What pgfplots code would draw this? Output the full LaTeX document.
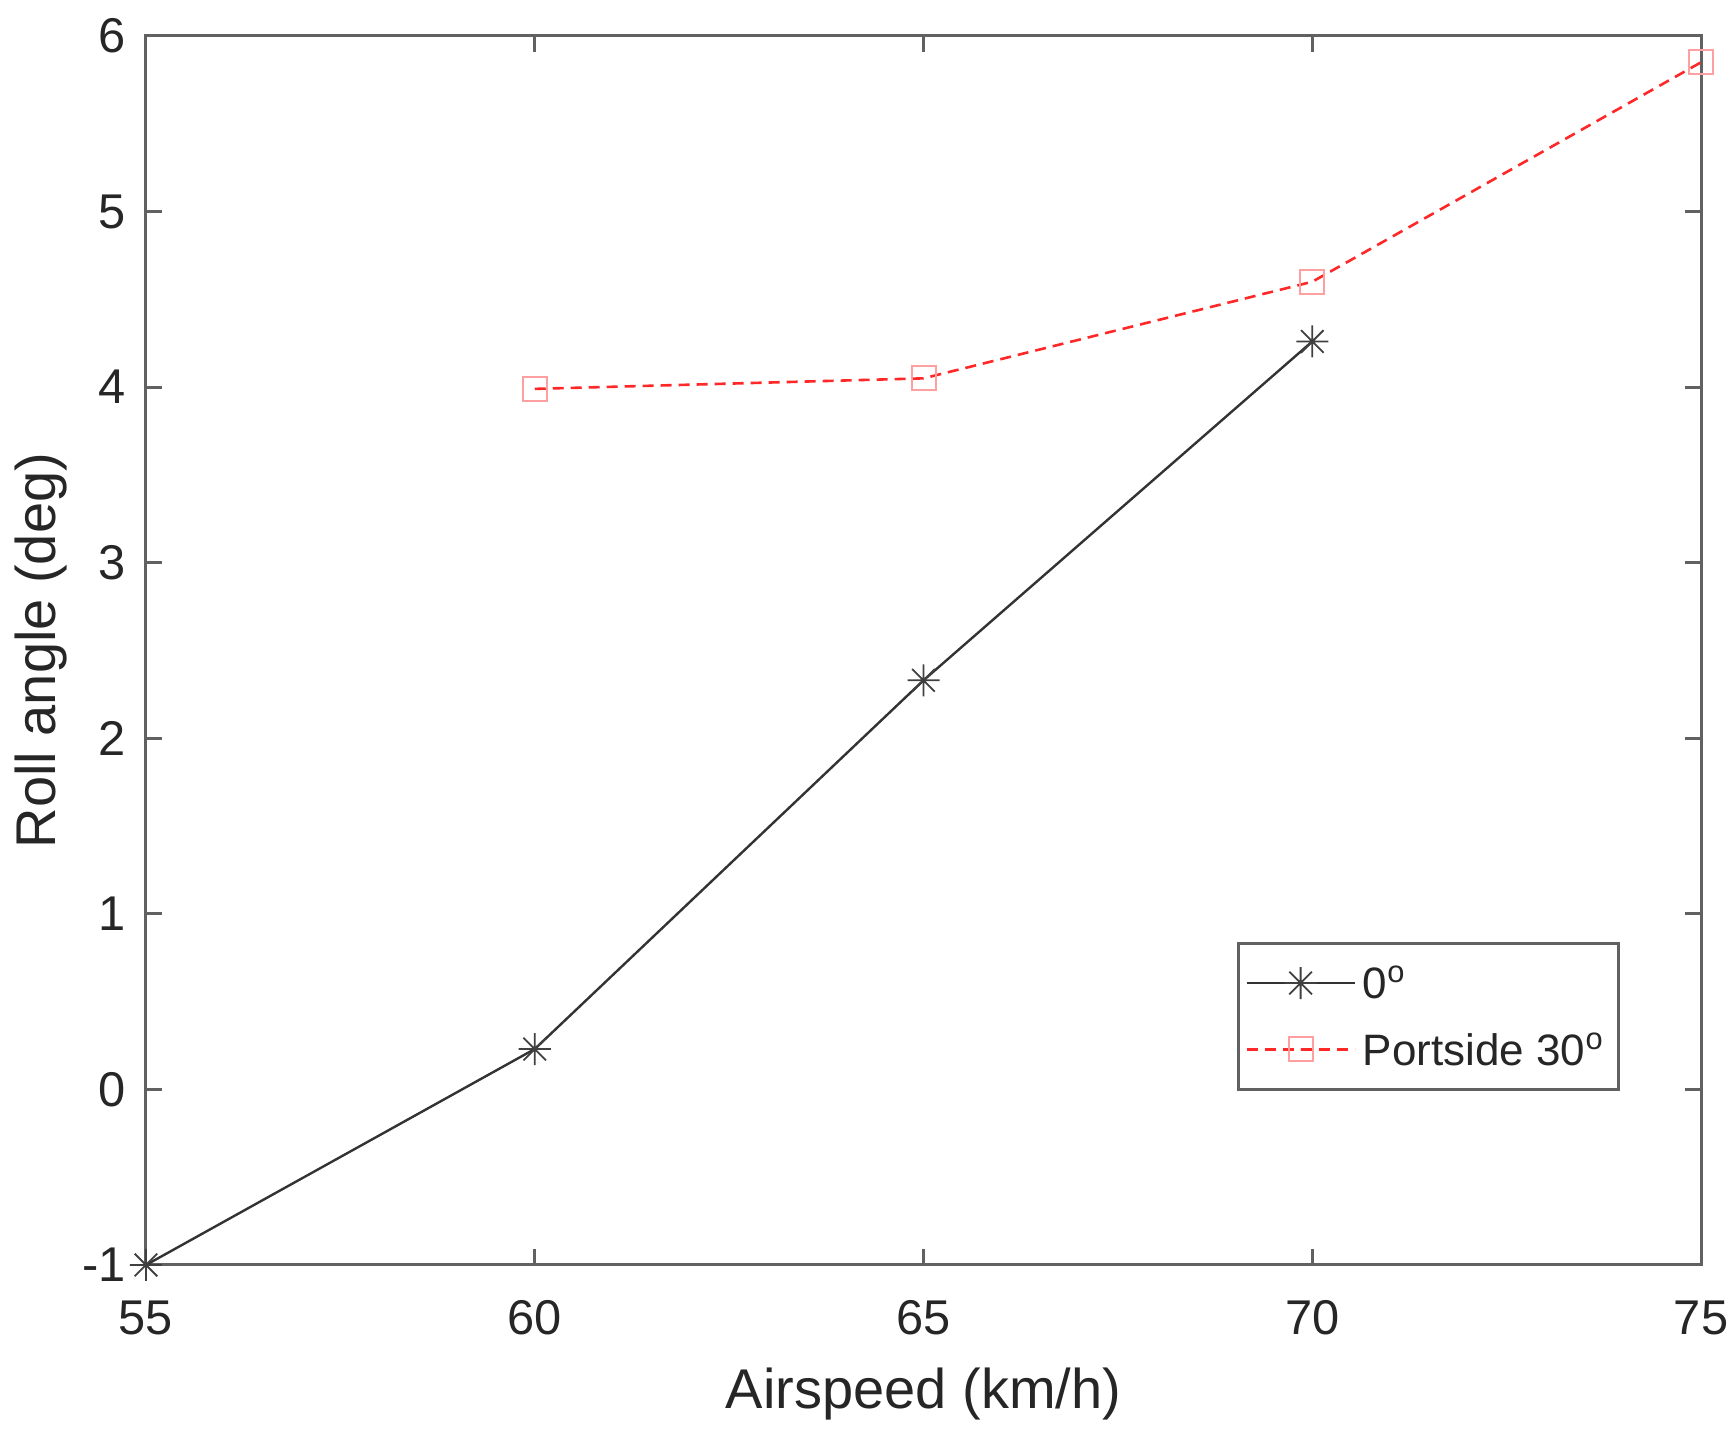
\documentclass[border=0pt]{standalone}
\usepackage{fontspec}
\setmainfont{Liberation Sans}
\usepackage{pgfplots}
\pgfplotsset{compat=1.18}
\definecolor{axc}{gray}{0.38}
\definecolor{txc}{gray}{0.15}
\definecolor{redl}{RGB}{255,40,40}
\definecolor{redm}{RGB}{255,160,160}
\pgfdeclareplotmark{mstar}{%
  \pgfpathmoveto{\pgfqpoint{-\pgfplotmarksize}{0pt}}\pgfpathlineto{\pgfqpoint{\pgfplotmarksize}{0pt}}%
  \pgfpathmoveto{\pgfqpoint{0pt}{-\pgfplotmarksize}}\pgfpathlineto{\pgfqpoint{0pt}{\pgfplotmarksize}}%
  \pgfpathmoveto{\pgfqpoint{-0.707\pgfplotmarksize}{-0.707\pgfplotmarksize}}\pgfpathlineto{\pgfqpoint{0.707\pgfplotmarksize}{0.707\pgfplotmarksize}}%
  \pgfpathmoveto{\pgfqpoint{-0.707\pgfplotmarksize}{0.707\pgfplotmarksize}}\pgfpathlineto{\pgfqpoint{0.707\pgfplotmarksize}{-0.707\pgfplotmarksize}}%
  \pgfusepathqstroke}
\pgfplotstableread{
x y
55 -1
60 0.23
65 2.33
70 4.26
}\zerodeg
\pgfplotstableread{
x y
60 3.99
65 4.05
70 4.60
75 5.85
}\portside
\begin{document}
\begin{tikzpicture}
\begin{axis}[
  name=ax,
  scale only axis,
  width=388.75pt, height=307.25pt,
  xmin=55, xmax=75, ymin=-1, ymax=6,
  xtick={55,60,65,70,75},
  ytick={-1,0,1,2,3,4,5,6},
  clip=false,
  tick align=inside,
  major tick length=4.1pt,
  axis line style={axc, line width=0.75pt},
  every tick/.style={axc, line width=0.75pt},
  /pgf/number format/assume math mode=true,
  ticklabel style={font=\fontsize{12.2}{14}\selectfont, text=txc},
  xticklabel style={anchor=north, inner sep=0pt, yshift=-8.75pt},
  yticklabel style={anchor=east, inner sep=0pt, xshift=-4.8pt},
  xlabel={Airspeed (km/h)},
  ylabel={Roll angle (deg)},
  label style={font=\fontsize{14}{16}\selectfont, text=txc},
  xlabel style={at={(axis description cs:0.5,-0.1164)}, anchor=base, inner sep=0pt},
  ylabel style={at={(axis description cs:-0.0585,0.5)}, anchor=base, rotate=0, inner sep=0pt},
  legend style={at={(0.948,0.1416)}, anchor=south east, draw=axc, line width=0.75pt,
    fill=white, font=\fontsize{11}{13}\selectfont, text=txc,
    inner xsep=1.75pt, inner ysep=4.3pt, row sep=5.2pt,
    nodes={inner sep=1.75pt, text height=7.9pt, text depth=0pt}},
  legend cell align=left,
  legend image code/.code={\draw[mark repeat=2,mark phase=2] plot coordinates {(0pt,0pt) (13.5pt,0pt) (27pt,0pt)};},
]
\addplot[color=black!80, line width=0.6pt, mark=mstar, mark size=4pt,
  mark options={solid, draw=black!75, line width=0.45pt}] table[x=x,y=y] {\zerodeg};
\addlegendentry{0\textsuperscript{o}}
\addplot[color=redl, line width=0.65pt, dash pattern=on 2.75pt off 1.75pt, mark=square, mark size=3pt,
  mark options={solid, draw=redm, line width=0.5pt}] table[x=x,y=y] {\portside};
\addlegendentry{Portside 30\textsuperscript{o}}
\end{axis}
\pgfresetboundingbox
\path ([xshift=-36.5pt,yshift=-43.25pt]ax.south west) rectangle ([xshift=8.5pt,yshift=9pt]ax.north east);
\end{tikzpicture}
\end{document}
